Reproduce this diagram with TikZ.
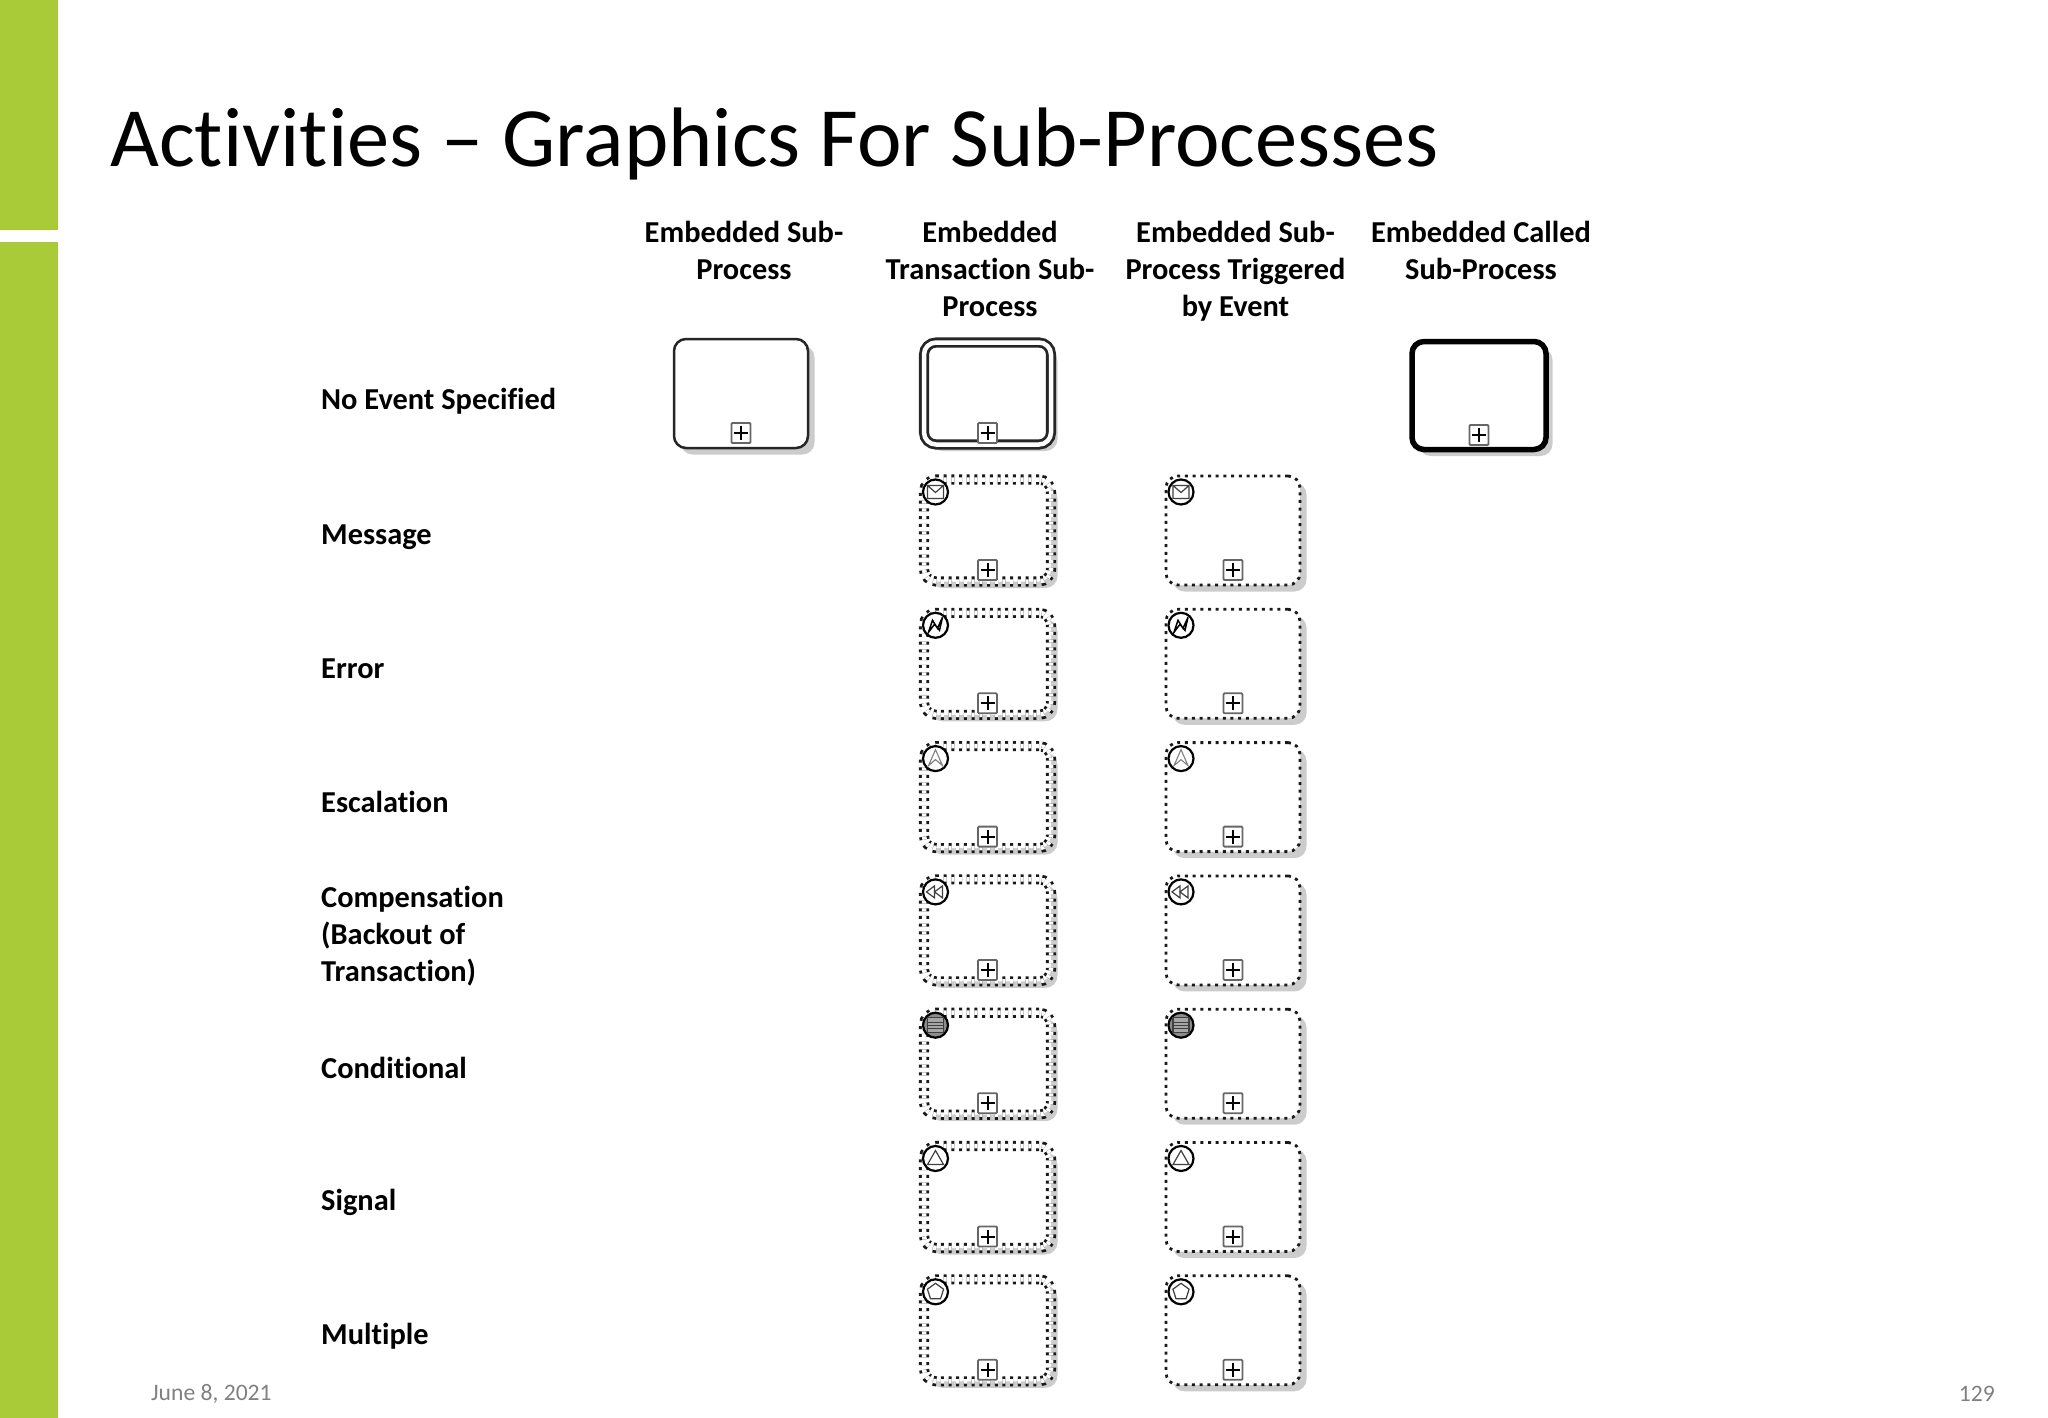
\documentclass[tikz,border=0pt]{standalone}
\usepackage{fontspec}
\setmainfont[Ligatures=CommonOff]{Carlito}
\usetikzlibrary{positioning,shadows}
\definecolor{slidegreen}{RGB}{169,203,55}
\definecolor{footgray}{RGB}{128,128,128}

\begin{document}
\begin{tikzpicture}[x=1pt,y=-1pt]
	\tikzset{headtext/.style={align=center,anchor=north,font=\fontsize{30.4}{37}\selectfont\bfseries,inner sep=0pt},
		rowtext/.style={align=left,anchor=west,font=\fontsize{30.4}{37}\selectfont\bfseries,inner sep=0pt},
		footer/.style={text=footgray,font=\fontsize{23.6}{28}\selectfont,inner sep=0pt},
		boxshadow/.style={drop shadow={shadow xshift=6.5pt,shadow yshift=-6.5pt,fill=black!20,opacity=1}},
		taskbox/.style={draw=black!85,fill=white,line width=2.5pt,rounded corners=12pt,outer sep=0pt,boxshadow,minimum width=134pt,minimum height=109pt},
		txbox/.style={taskbox,double=white,double distance=4.5pt,line width=2.8pt,minimum width=127pt,minimum height=102pt},
		calledbox/.style={taskbox,draw=black,line width=5.5pt,minimum width=134pt,minimum height=108pt},
		dotbox/.style={txbox,draw=black!90,dash pattern=on 3pt off 4.7pt},
		dotsingle/.style={taskbox,draw=black!90,line width=2.8pt,dash pattern=on 3pt off 4.7pt,minimum width=134pt,minimum height=109pt},
		iconring/.style={draw=black,line width=2.2pt,fill=white},
		iconline/.style={draw=black!75,line width=1.2pt},
		plusmark/.pic={\draw[draw=black!60,fill=white,line width=1.8pt,rounded corners=1pt] (-9.5,-10) rectangle (9.5,10);
			\draw[line width=2pt] (-7,0) -- (7,0) (0,-7) -- (0,7);},
		msgicon/.pic={\draw[iconring] (0,0) circle (12.5);
			\draw[iconline] (-8,-6.5) rectangle (8,6.5) (-8,-6.5) -- (0,0.5) -- (8,-6.5);},
		erricon/.pic={\draw[iconring] (0,0) circle (12.5);
			\draw[line width=1.5pt] (-7,7) -- (-3,-5) -- (2,3) -- (7,-8) -- (4,5) -- (-1,-1) -- cycle;},
		escicon/.pic={\draw[iconring] (0,0) circle (12.5);
			\draw[draw=black!50,line width=1.1pt] (0,-9) -- (7,7) -- (0,1) -- (-7,7) -- cycle;},
		compicon/.pic={\draw[iconring] (0,0) circle (12.5);
			\draw[iconline] (-9,0) -- (-1,-6) -- (-1,6) -- cycle (-1,0) -- (7,-6) -- (7,6) -- cycle;},
		condicon/.pic={\draw[iconring,fill=black!45] (0,0) circle (12.5);
			\draw[draw=black!75,fill=black!35,line width=1.1pt] (-8,-7.5) rectangle (8,7.5) (-8,-3) -- (8,-3) (-8,0) -- (8,0) (-8,3) -- (8,3);},
		sigicon/.pic={\draw[iconring] (0,0) circle (12.5);
			\draw[iconline] (0,-8) -- (8,6) -- (-8,6) -- cycle;},
		multicon/.pic={\draw[iconring] (0,0) circle (12.5);
			\draw[iconline] (0,-8.5) -- (8.1,-2.6) -- (5,6.9) -- (-5,6.9) -- (-8.1,-2.6) -- cycle;}}
	\useasboundingbox (0,0) rectangle (2048,1418);
	% side bar
	\fill[slidegreen] (0,0) rectangle (57.5,230);
	\fill[slidegreen] (0,242) rectangle (57.5,1418);
	% title and footer
	\node [anchor=base west,inner sep=0pt,font=\fontsize{84.4}{90}\selectfont] (title) at (110,166) {Activities – Graphics For Sub-Processes};
	\node [footer,anchor=west] (date) at (151,1393.5) {June 8, 2021};
	\node [footer,anchor=east] (pagenum) at (1995,1393.5) {129};
	% column heads
	\node [headtext] (headA) at (744,221) {Embedded Sub-\\Process};
	\node [headtext] (headB) at (990,221) {Embedded\\Transaction Sub-\\Process};
	\node [headtext] (headC) at (1235.5,221) {Embedded Sub-\\Process Triggered\\by Event};
	\node [headtext] (headD) at (1481,221) {Embedded Called\\Sub-Process};
	% row labels
	\node [rowtext] (rowNone) at (321,401) {No Event Specified};
	\node [rowtext] (rowMsg) at (321,537) {Message};
	\node [rowtext] (rowErr) at (321,668.5) {Error};
	\node [rowtext] (rowEsc) at (321,801.5) {Escalation};
	\node [rowtext] (rowComp) at (321,936) {Compensation\\(Backout of\\Transaction)};
	\node [rowtext] (rowCond) at (321,1068) {Conditional};
	\node [rowtext] (rowSig) at (321,1202.5) {Signal};
	\node [rowtext] (rowMulti) at (321,1336) {Multiple};
	% first row
	\node [txbox] (noneB) at (987.5,393.5) {};
	\node [taskbox, left =116pt of noneB] (noneA) {};
	\node [calledbox] (noneC) at (1479,395.5) {};
	% event rows
	\node [dotbox, below =35pt of noneB] (msgA) {};
	\node [dotbox, below =31.3pt of msgA] (errA) {};
	\node [dotbox, below =31.3pt of errA] (escA) {};
	\node [dotbox, below =31.3pt of escA] (compA) {};
	\node [dotbox, below =31.3pt of compA] (condA) {};
	\node [dotbox, below =31.3pt of condA] (sigA) {};
	\node [dotbox, below =31.3pt of sigA] (multA) {};
	\node [dotsingle, right =115pt of msgA] (msgB) {};
	\node [dotsingle, below =24.3pt of msgB] (errB) {};
	\node [dotsingle, below =24.3pt of errB] (escB) {};
	\node [dotsingle, below =24.3pt of escB] (compB) {};
	\node [dotsingle, below =24.3pt of compB] (condB) {};
	\node [dotsingle, below =24.3pt of condB] (sigB) {};
	\node [dotsingle, below =24.3pt of sigB] (multB) {};
	% markers
	\foreach \boxname in {noneA,noneB,noneC,msgA,errA,escA,compA,condA,sigA,multA,msgB,errB,escB,compB,condB,sigB,multB}
		\pic at ([yshift=-39.5pt]\boxname) {plusmark};
	% event icons
	\pic at ([shift={(-52pt,38.5pt)}]msgA) {msgicon};
	\pic at ([shift={(-52pt,38.5pt)}]msgB) {msgicon};
	\pic at ([shift={(-52pt,38.5pt)}]errA) {erricon};
	\pic at ([shift={(-52pt,38.5pt)}]errB) {erricon};
	\pic at ([shift={(-52pt,38.5pt)}]escA) {escicon};
	\pic at ([shift={(-52pt,38.5pt)}]escB) {escicon};
	\pic at ([shift={(-52pt,38.5pt)}]compA) {compicon};
	\pic at ([shift={(-52pt,38.5pt)}]compB) {compicon};
	\pic at ([shift={(-52pt,38.5pt)}]condA) {condicon};
	\pic at ([shift={(-52pt,38.5pt)}]condB) {condicon};
	\pic at ([shift={(-52pt,38.5pt)}]sigA) {sigicon};
	\pic at ([shift={(-52pt,38.5pt)}]sigB) {sigicon};
	\pic at ([shift={(-52pt,38.5pt)}]multA) {multicon};
	\pic at ([shift={(-52pt,38.5pt)}]multB) {multicon};
\end{tikzpicture}
\end{document}
